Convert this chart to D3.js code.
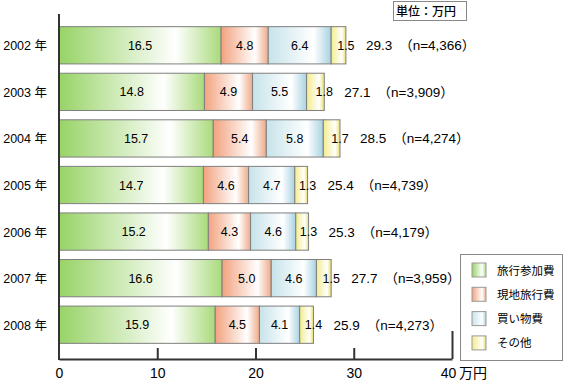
<!DOCTYPE html>
<html>
<head>
<meta charset="utf-8">
<script src="https://cdn.jsdelivr.net/npm/d3@7"></script>
<style>
  html, body { margin: 0; padding: 0; background: #fff; }
  svg { display: block; }
  text { font-family: "Liberation Sans", Arial, "Noto Sans CJK JP", sans-serif; fill: #000; }
  .cjk { font-family: "Noto Sans CJK JP", sans-serif; }
</style>
</head>
<body>
<svg id="chart" width="564" height="381"></svg>
<script>
// ---- data ----
const years = ["2002 年", "2003 年", "2004 年", "2005 年", "2006 年", "2007 年", "2008 年"];
const seriesNames = ["旅行参加費", "現地旅行費", "買い物費", "その他"];
const participation = [16.5, 14.8, 15.7, 14.7, 15.2, 16.6, 15.9];
const localTravel   = [4.8, 4.9, 5.4, 4.6, 4.3, 5.0, 4.5];
const shopping      = [6.4, 5.5, 5.8, 4.7, 4.6, 4.6, 4.1];
const other         = [1.5, 1.8, 1.7, 1.3, 1.3, 1.5, 1.4];
const totals        = [29.3, 27.1, 28.5, 25.4, 25.3, 27.7, 25.9];
const counts        = ["4,366", "3,909", "4,274", "4,739", "4,179", "3,959", "4,273"];
const xTicks        = [0, 10, 20, 30, 40];
const unitLabel     = "単位：万円";
const axisUnit      = "万円";

// ---- table built from arrays ----
const keys = ["p", "l", "s", "o"];
const rows = years.map((y, i) => ({ year: y, p: participation[i], l: localTravel[i], s: shopping[i], o: other[i], total: totals[i], n: counts[i] }));
const stacked = d3.stack().keys(keys)(rows);

const svg = d3.select("#chart");
const x = d3.scaleLinear().domain([0, 40]).range([59, 452]);
const y = d3.scaleBand().domain(years).range([22, 348]).paddingInner(0.2).paddingOuter(0.1);

// gradients
const grads = {
  p: ["#97d366", "#ffffff", "#a9da7a"],
  l: ["#f2a27f", "#ffffff", "#eeaa88"],
  s: ["#c6e3ea", "#ffffff", "#a9d2e1"],
  o: ["#f3ec8c", "#ffffff", "#e9df6a"]
};
const defs = svg.append("defs");
keys.forEach(k => {
  const g = defs.append("linearGradient").attr("id", "g-" + k).attr("x1", 0).attr("x2", 1).attr("y1", 0).attr("y2", 0);
  g.append("stop").attr("offset", "0%").attr("stop-color", grads[k][0]);
  g.append("stop").attr("offset", "72%").attr("stop-color", grads[k][1]);
  g.append("stop").attr("offset", "100%").attr("stop-color", grads[k][2]);
});

// bars
const layers = svg.append("g").selectAll("g").data(stacked).join("g");
layers.selectAll("rect").data(d => d.map(v => ({ key: d.key, v0: v[0], v1: v[1], year: v.data.year })))
  .join("rect")
  .attr("x", d => x(d.v0))
  .attr("y", d => y(d.year))
  .attr("width", d => x(d.v1) - x(d.v0))
  .attr("height", y.bandwidth())
  .attr("fill", d => "url(#g-" + d.key + ")")
  .attr("stroke", "#7f7f7f")
  .attr("stroke-width", 1);

// segment labels
stacked.forEach(layer => {
  layer.forEach(v => {
    const val = v.data[layer.key];
    const cx = layer.key === "o" ? x(v[1]) : (x(v[0]) + x(v[1])) / 2;
    svg.append("text")
      .attr("x", cx)
      .attr("y", y(v.data.year) + y.bandwidth() / 2 + 4.5)
      .attr("text-anchor", "middle")
      .attr("font-size", 12.5)
      .text(val.toFixed(1));
  });
});

// totals
rows.forEach((r, i) => {
  const end = stacked[3][i][1];
  const t = svg.append("text")
    .attr("x", x(end) + 20)
    .attr("y", y(r.year) + y.bandwidth() / 2 + 5)
    .attr("font-size", 13.5);
  t.append("tspan").text(r.total.toFixed(1));
  t.append("tspan").attr("class", "cjk").attr("dx", 7).text("（");
  t.append("tspan").text("n=" + r.n);
  t.append("tspan").attr("class", "cjk").text("）");
});

// year labels
svg.append("g").selectAll("text").data(years).join("text")
  .attr("x", 47)
  .attr("y", d => y(d) + y.bandwidth() / 2 + 5)
  .attr("text-anchor", "end")
  .attr("font-size", 12.5)
  .text(d => d);

// x axis
const axis = d3.axisBottom(x).tickValues(xTicks).tickSizeInner(-11).tickSizeOuter(0).tickPadding(9).tickFormat(d3.format("d"));
const ax = svg.append("g").attr("transform", "translate(0,359)").call(axis);
ax.select(".domain").attr("stroke", "#333").attr("stroke-width", 2);
ax.selectAll(".tick line").attr("stroke", "#333").attr("stroke-width", 2)
  .attr("y2", d => d === 40 ? -28 : (d === 0 ? 0 : -11));
ax.selectAll(".tick text").attr("font-size", 14).attr("font-family", "Liberation Sans, Arial, sans-serif").attr("fill", "#000")
  .attr("dx", d => d === 40 ? -4 : 0);
svg.append("text").attr("class", "cjk").attr("x", x(40) + 7).attr("y", 378).attr("font-size", 14).text(axisUnit);

// y axis line
svg.append("line").attr("x1", x(0)).attr("x2", x(0)).attr("y1", 14).attr("y2", 360).attr("stroke", "#333").attr("stroke-width", 2);

// unit box
svg.append("rect").attr("x", 393.5).attr("y", 1.5).attr("width", 73).attr("height", 19).attr("fill", "#fff").attr("stroke", "#888");
svg.append("text").attr("class", "cjk").attr("x", 396).attr("y", 15.5).attr("font-size", 12).attr("font-weight", 500).text(unitLabel);

// legend
svg.append("rect").attr("x", 460.5).attr("y", 254.5).attr("width", 102).attr("height", 106).attr("fill", "#fff").attr("stroke", "#888");
const lg = svg.append("g").selectAll("g").data(seriesNames).join("g")
  .attr("transform", (d, i) => `translate(472,${270 + i * 24.3})`);
lg.append("rect").attr("x", 0).attr("y", -7).attr("width", 14).attr("height", 14)
  .attr("fill", (d, i) => "url(#g-" + keys[i] + ")").attr("stroke", "#999");
lg.append("text").attr("class", "cjk").attr("x", 25).attr("y", 4.5).attr("font-size", 11.5).text(d => d);
</script>
</body>
</html>
